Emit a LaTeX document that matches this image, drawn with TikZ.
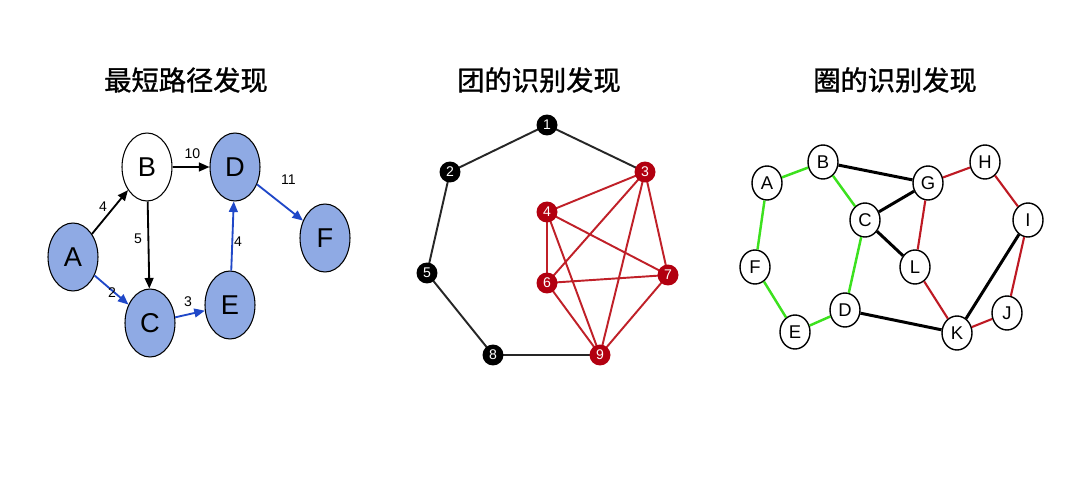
\documentclass[tikz,border=0pt]{standalone}
\usepackage{fontspec}
\setmainfont{Liberation Sans}
\newfontfamily\cjk[FakeBold=1.2]{Noto Sans CJK SC}
\usetikzlibrary{arrows.meta,shapes.geometric}
\definecolor{nodeblue}{RGB}{143,170,228}
\definecolor{edgeblue}{RGB}{32,72,200}
\definecolor{cliquered}{RGB}{192,32,40}
\definecolor{nodered}{RGB}{178,0,16}
\definecolor{ringgreen}{RGB}{60,225,30}
\definecolor{ringred}{RGB}{190,25,35}
\tikzset{
  title/.style={font=\cjk\fontsize{15.5}{18}\selectfont},
  bignode/.style={ellipse,draw=black,line width=0.6pt,minimum width=1.0cm,minimum height=1.36cm,inner sep=0pt,font=\fontsize{15.5}{18}\selectfont},
  blue node/.style={bignode,fill=nodeblue},
  white node/.style={bignode,fill=white},
  wlabel/.style={font=\fontsize{8}{9}\selectfont,inner sep=0pt},
  blk arrow/.style={draw=black,line width=1.05pt,-{Triangle[length=6pt,width=5pt]}},
  blu arrow/.style={draw=edgeblue,line width=1.05pt,-{Triangle[length=6pt,width=5pt]}},
  dot/.style={circle,minimum size=0.42cm,inner sep=0pt,text=white,font=\fontsize{8}{9}\selectfont},
  black dot/.style={dot,fill=black},
  red dot/.style={dot,fill=nodered},
  blk edge/.style={draw=black!85,line width=1.1pt},
  red edge/.style={draw=cliquered,line width=1.1pt},
  ring/.style={ellipse,draw=black,line width=0.8pt,fill=white,minimum width=0.6cm,minimum height=0.68cm,inner sep=0pt,font=\fontsize{10.5}{12}\selectfont},
  rblack/.style={draw=black,line width=1.7pt},
  rgreen/.style={draw=ringgreen,line width=1.4pt},
  rred/.style={draw=ringred,line width=1.2pt},
}
\begin{document}
\begin{tikzpicture}[x=0.02cm,y=-0.02cm]
\useasboundingbox[fill=white] (0,0) rectangle (1080,483);
% titles
\node[title] (t1) at (186,80) {最短路径发现};
\node[title] (t2) at (539,80) {团的识别发现};
\node[title] (t3) at (895,80) {圈的识别发现};

% ---- panel 1: shortest path
\node[blue node] (A) at (73,257) {A};
\node[white node] (B) at (147,167) {B};
\node[blue node] (D) at (235,167) {D};
\node[blue node] (C) at (150,323) {C};
\node[blue node] (E) at (230,305) {E};
\node[blue node] (F) at (325,238) {F};
\draw[blk arrow] (A) -- (B);
\draw[blu arrow] (A) -- (C);
\draw[blk arrow] (B) -- (C);
\draw[blk arrow] (B) -- (D);
\draw[blu arrow] (C) -- (E);
\draw[blu arrow] (E) -- (D);
\draw[blu arrow] (D) -- (F);
\node[wlabel] (lab) at (103,207) {4};
\node[wlabel] (lac) at (112,293) {2};
\node[wlabel] (lbc) at (138,239) {5};
\node[wlabel] (lbd) at (192.5,154) {10};
\node[wlabel] (lce) at (188,301.5) {3};
\node[wlabel] (led) at (238,241.5) {4};
\node[wlabel] (ldf) at (288.5,180) {11};

% ---- panel 2: clique
\coordinate (p1) at (547,125);
\coordinate (p2) at (450,172);
\coordinate (p3) at (645,172);
\coordinate (p4) at (547,212);
\coordinate (p5) at (427,273);
\coordinate (p6) at (547,283);
\coordinate (p7) at (668,275);
\coordinate (p8) at (493,355);
\coordinate (p9) at (600,355);
\draw[blk edge] (p3) -- (p1) -- (p2) -- (p5) -- (p8) -- (p9);
\draw[red edge] (p3) -- (p4) (p3) -- (p6) (p3) -- (p9) (p3) -- (p7)
  (p4) -- (p6) (p4) -- (p7) (p4) -- (p9) (p6) -- (p7) (p6) -- (p9) (p7) -- (p9);
\node[black dot] (n1) at (p1) {1};
\node[black dot] (n2) at (p2) {2};
\node[black dot] (n5) at (p5) {5};
\node[black dot] (n8) at (p8) {8};
\node[red dot] (n3) at (p3) {3};
\node[red dot] (n4) at (p4) {4};
\node[red dot] (n6) at (p6) {6};
\node[red dot] (n7) at (p7) {7};
\node[red dot] (n9) at (p9) {9};

% ---- panel 3: cycles
\node[ring] (ra) at (767,183) {A};
\node[ring] (rb) at (823,162) {B};
\node[ring] (rf) at (755,267) {F};
\node[ring] (rc) at (865,220) {C};
\node[ring] (re) at (795,332) {E};
\node[ring] (rd) at (845,310) {D};
\node[ring] (rg) at (928,183) {G};
\node[ring] (rh) at (985,162) {H};
\node[ring] (rl) at (915,267) {L};
\node[ring] (ri) at (1028,220) {I};
\node[ring] (rj) at (1007,313) {J};
\node[ring] (rk) at (957,333) {K};
\draw[rgreen] (ra) -- (rb);
\draw[rgreen] (ra) -- (rf);
\draw[rgreen] (rf) -- (re);
\draw[rgreen] (re) -- (rd);
\draw[rgreen] (rd) -- (rc);
\draw[rgreen] (rc) -- (rb);
\draw[rblack] (rb) -- (rg);
\draw[rblack] (rc) -- (rg);
\draw[rblack] (rc) -- (rl);
\draw[rblack] (rd) -- (rk);
\draw[rblack] (ri) -- (rk);
\draw[rred] (rg) -- (rh);
\draw[rred] (rh) -- (ri);
\draw[rred] (rg) -- (rl);
\draw[rred] (rl) -- (rk);
\draw[rred] (rk) -- (rj);
\draw[rred] (rj) -- (ri);
\end{tikzpicture}
\end{document}
